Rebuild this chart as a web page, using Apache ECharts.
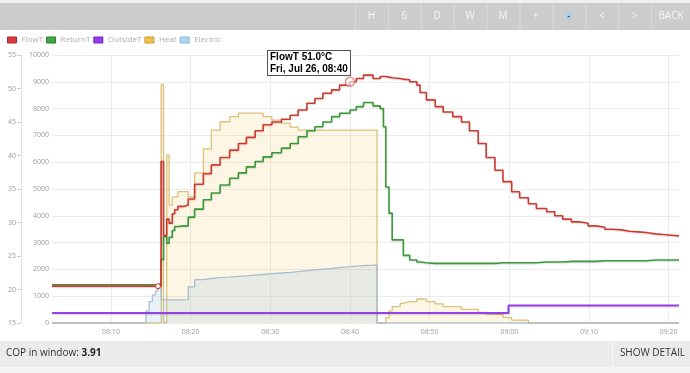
<!DOCTYPE html>
<html>
<head>
<meta charset="utf-8">
<script src="https://cdn.jsdelivr.net/npm/echarts@6/dist/echarts.min.js"></script>
<style>
html,body{margin:0;padding:0;background:#fff;}
#c{width:690px;height:373px;}
</style>
</head>
<body>
<div id="c"></div>
<script>
// ---- data (minutes after 08:00 on Fri 26 Jul) ----
const minutes = [
  2.6, 14.0, 14.4, 14.8, 15.2, 15.6, 15.9, 16.3, 16.6, 17.0,
  17.3, 17.7, 18.0, 18.4, 19.1, 19.7, 20.5, 21.6, 22.6, 23.7,
  24.9, 26.0, 27.0, 28.1, 29.1, 30.2, 31.4, 32.5, 33.5, 34.6,
  35.6, 36.6, 37.7, 38.7, 40.0, 40.8, 41.7, 42.9, 43.4, 43.8,
  44.2, 44.5, 44.9, 45.3, 46.3, 46.7, 47.5, 48.4, 48.8, 49.6,
  50.7, 51.7, 52.9, 54.0, 55.0, 56.1, 57.1, 58.2, 59.2, 59.9,
  60.3, 61.3, 62.4, 63.4, 64.7, 65.7, 66.7, 67.8, 68.8, 69.9,
  70.9, 72.0, 73.0, 74.1, 75.1, 76.2, 77.2, 78.3, 79.3, 80.4,
  81.3
];
const flowT = [
  20.5, 20.5, 20.5, 20.5, 20.5, 20.5, 20.5, 39.1, 28.1, 30.5,
  29.9, 31.3, 31.9, 32.4, 32.6, 33.5, 35.7, 37.3, 38.6, 39.7,
  40.8, 41.8, 42.7, 43.7, 44.6, 45.0, 45.4, 46.0, 46.8, 47.8,
  48.5, 49.3, 49.8, 50.5, 51.0, 51.5, 52.0, 51.5, 51.5, 51.8,
  51.8, 51.7, 51.6, 51.5, 51.4, 51.3, 51.0, 50.5, 49.4, 48.3,
  47.3, 46.5, 45.8, 45.0, 43.7, 41.8, 39.7, 37.8, 36.1, 36.1,
  34.6, 33.7, 32.8, 32.1, 31.6, 31.0, 30.5, 30.1, 29.9, 29.5,
  29.3, 29.0, 28.9, 28.7, 28.6, 28.5, 28.3, 28.2, 28.1, 28.0,
  28.0
];
const returnT = [
  20.7, 20.7, 20.7, 20.7, 20.7, 20.7, 20.8, 24.5, 27.9, 26.9,
  27.8, 28.8, 29.4, 29.5, 29.5, 30.8, 32.0, 33.4, 34.4, 35.6,
  36.6, 37.4, 38.3, 39.1, 39.8, 40.4, 41.1, 41.8, 42.8, 43.7,
  44.3, 45.0, 45.8, 46.3, 46.8, 47.3, 47.9, 47.4, 47.4, 47.0,
  44.3, 35.3, 31.4, 27.4, 27.4, 25.1, 24.4, 24.1, 24.0, 23.9,
  23.9, 23.9, 23.9, 23.9, 23.9, 23.9, 23.9, 24.0, 24.0, 24.0,
  24.0, 24.0, 24.0, 24.1, 24.1, 24.1, 24.2, 24.2, 24.2, 24.2,
  24.3, 24.3, 24.3, 24.3, 24.3, 24.3, 24.4, 24.4, 24.4, 24.4,
  24.4
];
const outsideT = [
  16.5, 16.5, 16.5, 16.5, 16.5, 16.5, 16.5, 16.5, 16.5, 16.5,
  16.5, 16.5, 16.5, 16.5, 16.5, 16.5, 16.5, 16.5, 16.5, 16.5,
  16.5, 16.5, 16.5, 16.5, 16.5, 16.5, 16.5, 16.5, 16.5, 16.5,
  16.5, 16.5, 16.5, 16.5, 16.5, 16.5, 16.5, 16.5, 16.5, 16.5,
  16.5, 16.5, 16.5, 16.5, 16.5, 16.5, 16.5, 16.5, 16.5, 16.5,
  16.5, 16.5, 16.5, 16.5, 16.5, 16.5, 16.5, 16.5, 16.5, 17.6,
  17.6, 17.6, 17.6, 17.6, 17.6, 17.6, 17.6, 17.6, 17.6, 17.6,
  17.6, 17.6, 17.6, 17.6, 17.6, 17.6, 17.6, 17.6, 17.6, 17.6,
  17.6
];
const heat = [
  0, 0, 0, 0, 0, 0, 0, 8900, 0, 6270,
  4400, 4700, 4710, 4900, 4900, 4710, 5600, 6500, 7200, 7510,
  7700, 7830, 7830, 7830, 7700, 7570, 7460, 7310, 7200, 7200,
  7200, 7200, 7200, 7200, 7200, 7200, 7200, 7200, 0, 0,
  0, 200, 450, 610, 735, 795, 795, 895, 895, 795,
  710, 610, 610, 510, 510, 400, 325, 325, 210, 210,
  110, 110, 0, 0, 0, 0, 0, 0, 0, 0,
  0, 0, 0, 0, 0, 0, 0, 0, 0, 0,
  0
];
const electric = [
  0, 0, 450, 800, 1050, 1200, 1280, 860, 860, 860,
  860, 860, 860, 860, 870, 1350, 1620, 1660, 1690, 1710,
  1740, 1760, 1790, 1810, 1840, 1865, 1890, 1920, 1950, 1980,
  2010, 2040, 2070, 2100, 2120, 2140, 2160, 2170, 0, 0,
  0, 0, 0, 0, 0, 0, 0, 0, 0, 0,
  0, 0, 0, 0, 0, 0, 0, 0, 0, 0,
  0, 0, 0, 0, 0, 0, 0, 0, 0, 0,
  0, 0, 0, 0, 0, 0, 0, 0, 0, 0,
  0
];
const xTickMinutes = [10, 20, 30, 40, 50, 60, 70, 80];   // 08:10 ... 09:20
const toolbarButtons = ['H', '6', 'D', 'W', 'M', '+', '-', '<', '>', 'BACK'];
const copLabel = 'COP in window: ';
const copValue = '3.91';
const detailLabel = 'SHOW DETAIL';
const tooltipIndex = 34;   // 08:40 point of FlowT
const markerIndex = 6;     // small hollow marker where the run starts

// ---- build ----
const pts = arr => minutes.map((m, i) => [m, arr[i]]);
const pad = n => (n < 10 ? '0' : '') + n;
const hhmm = m => { const t = Math.round(m); return pad(8 + Math.floor(t / 60)) + ':' + pad(t % 60); };

const flowData = pts(flowT).map((p, i) => {
  if (i === tooltipIndex) {
    return { value: p, symbol: 'circle', symbolSize: 9,
      itemStyle: { color: 'rgba(255,255,255,0.6)', borderColor: 'rgba(225,110,110,0.75)', borderWidth: 1.5 } };
  }
  if (i === markerIndex) {
    return { value: p, symbol: 'circle', symbolSize: 5,
      itemStyle: { color: '#fff', borderColor: '#c33', borderWidth: 1 } };
  }
  return p;
});

const FONT = "'Open Sans', 'DejaVu Sans', sans-serif";
const shadow = { shadowColor: 'rgba(0,0,0,0.15)', shadowBlur: 1.5, shadowOffsetY: 1 };

const graphics = [];
graphics.push({ type: 'rect', shape: { x: 0, y: 0, width: 690, height: 3 }, style: { fill: '#efefef' }, silent: true });
graphics.push({ type: 'rect', shape: { x: 0, y: 3, width: 690, height: 27 }, style: { fill: '#cccccc' }, silent: true });
const bx0 = 355, bw = 32.9;
toolbarButtons.forEach((lab, i) => {
  const x = bx0 + i * bw;
  graphics.push({ type: 'line', shape: { x1: x + 0.5, y1: 3, x2: x + 0.5, y2: 30 }, style: { stroke: '#dadada', lineWidth: 1 }, silent: true });
  const cx = lab === 'BACK' ? 671 : x + bw / 2;
  if (lab === '-') {
    graphics.push({ type: 'rect', shape: { x: cx - 2, y: 12, width: 4, height: 8 }, style: { fill: '#9fd0f2' }, silent: true });
  }
  graphics.push({ type: 'text', x: cx, y: 16.5, silent: true,
    style: { text: lab, fill: lab === '-' ? '#333' : '#f6f6f6', font: "10px " + FONT, align: 'center', verticalAlign: 'middle' } });
});
graphics.push({ type: 'rect', shape: { x: 0, y: 341, width: 690, height: 26 }, style: { fill: '#ebebeb' }, silent: true });
graphics.push({ type: 'rect', shape: { x: 0, y: 367, width: 690, height: 6 }, style: { fill: '#f5f5f5' }, silent: true });
graphics.push({ type: 'line', shape: { x1: 612.5, y1: 341, x2: 612.5, y2: 367 }, style: { stroke: '#f8f8f8', lineWidth: 1 }, silent: true });
graphics.push({ type: 'text', x: 6, y: 353, silent: true,
  style: { text: copLabel + '{b|' + copValue + '}', fill: '#333', font: "10px " + FONT, verticalAlign: 'middle',
    rich: { b: { fontWeight: 'bold', fontSize: 10, fontFamily: FONT, fill: '#222' } } } });
graphics.push({ type: 'text', x: 685, y: 353, silent: true,
  style: { text: detailLabel, fill: '#333', font: "10px " + FONT, align: 'right', verticalAlign: 'middle' } });

const chart = echarts.init(document.getElementById('c'), null, { renderer: 'canvas' });
chart.setOption({
  animation: false,
  backgroundColor: '#fff',
  textStyle: { fontFamily: FONT },
  grid: { left: 52, right: 11, top: 55, bottom: 50, containLabel: false },
  legend: {
    left: 7, top: 36, padding: 0, icon: 'rect', itemWidth: 9, itemHeight: 6, itemGap: 3,
    selectedMode: false,
    textStyle: { color: '#adadad', fontSize: 8, fontFamily: FONT },
    data: [
      { name: 'FlowT', itemStyle: { color: '#d83c3c', borderColor: '#a82828', borderWidth: 1 } },
      { name: 'ReturnT', itemStyle: { color: '#3ea83e', borderColor: '#2a7a2a', borderWidth: 1 } },
      { name: 'OutsideT', itemStyle: { color: '#9a3cf0', borderColor: '#6e28b0', borderWidth: 1 } },
      { name: 'Heat', itemStyle: { color: '#f2c24a', borderColor: '#c89a30', borderWidth: 1 } },
      { name: 'Electric', itemStyle: { color: '#aed6f5', borderColor: '#88b4d8', borderWidth: 1 } }
    ]
  },
  tooltip: {
    trigger: 'item', triggerOn: 'none', alwaysShowContent: true, transitionDuration: 0,
    position: [267, 50], padding: [0, 2], backgroundColor: '#fff', borderColor: '#555', borderWidth: 1,
    extraCssText: 'box-shadow:none;border-radius:0;',
    formatter: p => '<div style="font:bold 10px/12px \'Liberation Sans\',Arial,sans-serif;color:#000;white-space:nowrap">' +
        p.seriesName + ' ' + p.value[1].toFixed(1) + '°C<br>Fri, Jul 26, ' + hhmm(p.value[0]) + '</div>'
  },
  xAxis: {
    type: 'value',
    min: minutes[0],
    max: minutes[minutes.length - 1],
    axisLine: { show: false },
    axisTick: { show: false, customValues: xTickMinutes },
    splitLine: { show: true, lineStyle: { color: '#ececec', width: 1 } },
    axisLabel: {
      customValues: xTickMinutes,
      color: '#9a9a9a', fontSize: 7, fontFamily: FONT, margin: 5,
      formatter: v => hhmm(v)
    }
  },
  yAxis: [
    {
      type: 'value', position: 'left', min: 0, max: 10000, interval: 1000,
      axisLine: { show: false }, axisTick: { show: false },
      splitLine: { show: true, lineStyle: { color: '#ececec', width: 1 } },
      axisLabel: { color: '#9a9a9a', fontSize: 7, fontFamily: FONT, margin: 3, formatter: v => String(v) }
    },
    {
      type: 'value', position: 'left', offset: 31, min: 15, max: 55, interval: 5,
      axisLine: { show: true, lineStyle: { color: '#e2e2e2', width: 1 } },
      axisTick: { show: true, length: 4, lineStyle: { color: '#d0d0d0' } },
      splitLine: { show: false },
      axisLabel: { color: '#9a9a9a', fontSize: 7, fontFamily: FONT, margin: 5, formatter: v => String(v) }
    }
  ],
  series: [
    {
      name: 'Heat', type: 'line', step: 'end', yAxisIndex: 0, showSymbol: false, symbol: 'none',
      data: pts(heat),
      itemStyle: { color: '#f2c24a' },
      lineStyle: { color: 'rgba(212,178,92,0.8)', width: 1.3 },
      areaStyle: { color: 'rgba(242,196,80,0.22)' },
      emphasis: { disabled: true }, z: 1
    },
    {
      name: 'Electric', type: 'line', step: 'end', yAxisIndex: 0, showSymbol: false, symbol: 'none',
      data: pts(electric),
      itemStyle: { color: '#aed6f5' },
      lineStyle: { color: 'rgba(160,185,205,0.9)', width: 1.3 },
      areaStyle: { color: 'rgba(172,205,230,0.38)' },
      emphasis: { disabled: true }, z: 2
    },
    {
      name: 'OutsideT', type: 'line', step: 'end', yAxisIndex: 1, showSymbol: false, symbol: 'none',
      data: pts(outsideT),
      itemStyle: { color: '#9a3cf0' },
      lineStyle: Object.assign({ color: '#9540e8', width: 2 }, shadow),
      emphasis: { disabled: true }, z: 3
    },
    {
      name: 'ReturnT', type: 'line', step: 'end', yAxisIndex: 1, showSymbol: false, symbol: 'none',
      data: pts(returnT),
      itemStyle: { color: '#3ea83e' },
      lineStyle: Object.assign({ color: '#3a9a3a', width: 1.6 }, shadow),
      emphasis: { disabled: true }, z: 4
    },
    {
      name: 'FlowT', type: 'line', step: 'end', yAxisIndex: 1, showSymbol: true, symbol: 'none',
      data: flowData,
      itemStyle: { color: '#d83c3c' },
      lineStyle: Object.assign({ color: '#cf3a30', width: 1.6 }, shadow),
      emphasis: { disabled: true }, z: 5
    }
  ],
  graphic: graphics
});
chart.dispatchAction({ type: 'showTip', seriesIndex: 4, dataIndex: tooltipIndex });
</script>
</body>
</html>
